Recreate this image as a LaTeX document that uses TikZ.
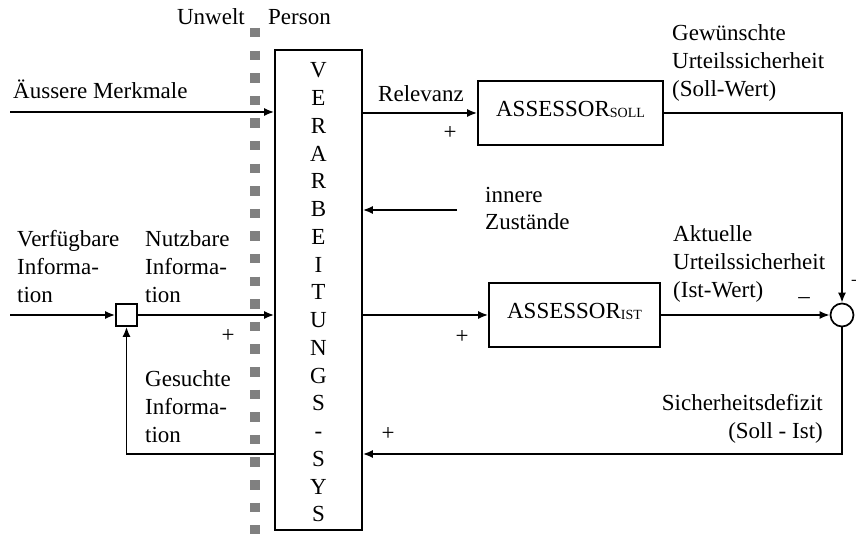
\documentclass[tikz,border=0pt]{standalone}
\usepackage{fontspec}
\setmainfont{Liberation Serif}
\usetikzlibrary{arrows.meta}
\definecolor{sqgray}{RGB}{128,128,128}
\tikzset{
  lbl/.style={inner sep=0pt, font=\fontsize{23}{28}\selectfont},
  blk/.style={draw, line width=1.7pt, inner sep=0pt},
  arr/.style={line width=1.7pt, -{Latex[length=10pt,width=8pt]}},
  ln/.style={line width=1.7pt},
  border/.style={draw=sqgray, line width=10pt, dash pattern=on 9.5pt off 13.1pt}
}
\newcommand{\sublbl}[1]{\raisebox{-1pt}{\fontsize{14}{14}\selectfont #1}}
\begin{document}
\begin{tikzpicture}[x=1pt,y=-1pt]
\useasboundingbox (0,0) rectangle (856,534);

% boundary between environment and person
\draw[border] (255,28) -- (255,545);
\node[lbl, anchor=base east] (umwelt) at (245,25) {Unwelt};
\node[lbl, anchor=base west] (person) at (268,25) {Person};

% processing system
\node[blk, minimum width=87pt, minimum height=480pt] (vs) at (318.5,290) {};
\node[inner sep=0pt, anchor=base, font=\fontsize{23}{27.75}\selectfont] (vslbl) at (318.5,78)
  {\begin{tabular}[t]{@{}c@{}}V\\E\\R\\A\\R\\B\\E\\I\\T\\U\\N\\G\\S\\-\\S\\Y\\S\end{tabular}};

% assessors and comparison point
\node[blk, minimum width=185pt, minimum height=64pt] (soll) at (570.5,113) {};
\node[lbl, anchor=base] (solltxt) at (570.5,117) {ASSESSOR\sublbl{SOLL}};
\node[blk, minimum width=171pt, minimum height=64pt] (ist) at (574.5,315) {};
\node[lbl, anchor=base] (isttxt) at (574.5,319) {ASSESSOR\sublbl{IST}};
\node[blk, circle, minimum size=23pt] (sum) at (842,315) {};
\node[blk, minimum width=21pt, minimum height=22pt] (mix) at (126.5,315) {};

% free ends and corners
\coordinate (inA) at (10,112);
\coordinate (inV) at (10,315);
\coordinate (innen) at (457,210);
\coordinate (defizit) at (842,454);
\coordinate (gs) at (126.5,454);

% connectors
\draw[arr] (inA) -- (vs.west |- inA);
\draw[arr] (vs.east |- soll.west) -- (soll.west);
\draw[arr] (soll.east) -| (sum.north);
\draw[arr] (vs.east |- ist.west) -- (ist.west);
\draw[arr] (ist.east) -- (sum.west);
\draw[arr] (sum.south) -- (defizit) -- (vs.east |- defizit);
\draw[arr] (innen) -- (vs.east |- innen);
\draw[arr] (inV) -- (mix.west);
\draw[arr] (mix.east) -- (vs.west |- mix.east);
\draw[arr] (vs.west |- gs) -- (gs) -- (mix.south);

% labels
\node[lbl, anchor=base west] (merkmale) at (13,99) {Äussere Merkmale};
\node[lbl, anchor=base west] (relevanz) at (378,102) {Relevanz};
\node[lbl, anchor=base west] (gewuenscht) at (672,40.7)
  {\begin{tabular}[t]{@{}l@{}}Gewünschte\\Urteilssicherheit\\(Soll-Wert)\end{tabular}};
\node[lbl, anchor=base west, font=\fontsize{23}{27}\selectfont] (zustand) at (485,203)
  {\begin{tabular}[t]{@{}l@{}}innere\\Zustände\end{tabular}};
\node[lbl, anchor=base west] (aktuell) at (673,242)
  {\begin{tabular}[t]{@{}l@{}}Aktuelle\\Urteilssicherheit\\(Ist-Wert)\end{tabular}};
\node[lbl, anchor=base west] (verfueg) at (17,247)
  {\begin{tabular}[t]{@{}l@{}}Verfügbare\\Informa-\\tion\end{tabular}};
\node[lbl, anchor=base west] (nutzbar) at (145,247)
  {\begin{tabular}[t]{@{}l@{}}Nutzbare\\Informa-\\tion\end{tabular}};
\node[lbl, anchor=base west] (gesucht) at (145,386)
  {\begin{tabular}[t]{@{}l@{}}Gesuchte\\Informa-\\tion\end{tabular}};
\node[lbl, anchor=base east] (defizittxt) at (823,410)
  {\begin{tabular}[t]{@{}r@{}}Sicherheitsdefizit\\(Soll - Ist)\end{tabular}};

% signs
\node[lbl] (p1) at (450,133) {+};
\node[lbl] (p2) at (462,337) {+};
\node[lbl] (p3) at (228,336) {+};
\node[lbl] (p4) at (388,434) {+};
\node[lbl, anchor=base] (m1) at (804,304) {–};
\node[lbl, anchor=base west] (p5) at (850.5,289) {+};
\end{tikzpicture}
\end{document}
